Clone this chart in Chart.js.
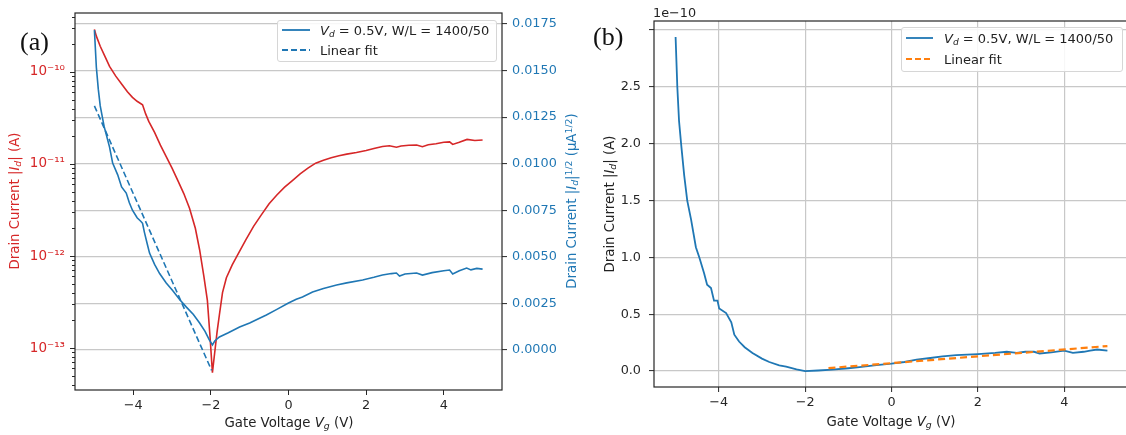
<!DOCTYPE html>
<html>
<head>
<meta charset="utf-8">
<script src="https://cdn.jsdelivr.net/npm/chart.js@4.4.1/dist/chart.umd.min.js"></script>
<style>
  html, body { margin: 0; padding: 0; background: #fff; overflow: hidden; }
  body { width: 1126px; height: 435px; position: relative; font-family: "DejaVu Sans", sans-serif; color: #222; }
  canvas { position: absolute; top: 0; }
  #chartA { left: 0; }
  #chartB { left: 580px; }
  .txt { position: absolute; white-space: nowrap; font-size: 13.3px; line-height: 16px; }
  .rot { transform: translate(-50%, -50%) rotate(-90deg); }
  .ctr { transform: translate(-50%, -50%); }
  .panel { position: absolute; font-family: "Liberation Serif", serif; font-size: 26px; line-height: 26px; color: #111; }
  sub { font-size: 0.7em; vertical-align: -0.25em; line-height: 0; }
  sup { font-size: 0.7em; vertical-align: 0.45em; line-height: 0; }
  .legend { position: absolute; background: rgba(255,255,255,0.85); border: 1px solid #d6d6d6; border-radius: 3px; box-sizing: border-box; }
  .legend .row { position: absolute; left: 0; display: flex; align-items: center; font-size: 13px; line-height: 15px; white-space: nowrap; }
  .legend svg { margin-left: 4px; margin-right: 10px; }
</style>
</head>
<body>
<canvas id="chartA" width="600" height="435"></canvas>
<canvas id="chartB" width="600" height="435"></canvas>

<div class="panel" style="left:20px;top:29px">(a)</div>
<div class="panel" style="left:593px;top:24px">(b)</div>

<div class="txt rot" style="left:15px;top:201px;color:#d62728">Drain Current |<i>I<sub>d</sub></i>| (A)</div>
<div class="txt rot" style="left:572px;top:201px;color:#1f77b4">Drain Current |<i>I<sub>d</sub></i>|<sup>1/2</sup> (μA<sup>1/2</sup>)</div>
<div class="txt ctr" style="left:289px;top:423px">Gate Voltage <i>V<sub>g</sub></i> (V)</div>

<div class="txt rot" style="left:610px;top:204px">Drain Current |<i>I<sub>d</sub></i>| (A)</div>
<div class="txt ctr" style="left:891px;top:422px">Gate Voltage <i>V<sub>g</sub></i> (V)</div>
<div class="txt" style="left:653px;top:5px;font-size:12.8px;line-height:15px">1e−10</div>

<div class="legend" style="left:277px;top:20px;width:220px;height:42px">
  <div class="row" style="top:1.5px"><svg width="28" height="10"><line x1="0" y1="5" x2="28" y2="5" stroke="#1f77b4" stroke-width="1.8"/></svg><span><i>V<sub>d</sub></i> = 0.5V, W/L = 1400/50</span></div>
  <div class="row" style="top:21.5px"><svg width="28" height="10"><line x1="0" y1="5" x2="28" y2="5" stroke="#1f77b4" stroke-width="1.8" stroke-dasharray="6 3"/></svg><span>Linear fit</span></div>
</div>
<div class="legend" style="left:901px;top:27px;width:222px;height:45px">
  <div class="row" style="top:2.5px"><svg width="27" height="10"><line x1="0" y1="5" x2="27" y2="5" stroke="#1f77b4" stroke-width="1.8"/></svg><span style="margin-left:1px"><i>V<sub>d</sub></i> = 0.5V, W/L = 1400/50</span></div>
  <div class="row" style="top:23.5px"><svg width="27" height="10"><line x1="0" y1="5" x2="27" y2="5" stroke="#ff7f0e" stroke-width="2" stroke-dasharray="6 3"/></svg><span style="margin-left:1px">Linear fit</span></div>
</div>

<script>
// (a) |Id| on log axis
const redVg = [-5.00, -4.95, -4.85, -4.72, -4.61, -4.45, -4.28, -4.15, -4.02, -3.90, -3.76, -3.68, -3.60, -3.45, -3.30, -3.15, -3.00, -2.85, -2.70, -2.55, -2.40, -2.29, -2.18, -2.09, -2.02, -1.96, -1.90, -1.84, -1.78, -1.70, -1.60, -1.45, -1.30, -1.10, -0.90, -0.70, -0.50, -0.30, -0.10, 0.10, 0.30, 0.50, 0.70, 0.90, 1.10, 1.30, 1.50, 1.75, 2.00, 2.20, 2.42, 2.60, 2.78, 2.90, 3.10, 3.30, 3.45, 3.60, 3.80, 4.00, 4.15, 4.23, 4.40, 4.60, 4.80, 5.00];
const redId = [2.9e-10, 2.45e-10, 1.9e-10, 1.45e-10, 1.15e-10, 9.0e-11, 7.2e-11, 6.1e-11, 5.3e-11, 4.8e-11, 4.4e-11, 3.5e-11, 2.9e-11, 2.2e-11, 1.6e-11, 1.2e-11, 9.0e-12, 6.6e-12, 4.8e-12, 3.3e-12, 2.0e-12, 1.17e-12, 6.0e-13, 3.3e-13, 1.3e-13, 5.4e-14, 9.0e-14, 1.5e-13, 2.3e-13, 4.0e-13, 5.8e-13, 8.0e-13, 1.05e-12, 1.5e-12, 2.1e-12, 2.8e-12, 3.7e-12, 4.6e-12, 5.6e-12, 6.6e-12, 7.8e-12, 9.0e-12, 1.02e-11, 1.10e-11, 1.17e-11, 1.23e-11, 1.28e-11, 1.33e-11, 1.40e-11, 1.47e-11, 1.55e-11, 1.58e-11, 1.52e-11, 1.57e-11, 1.60e-11, 1.61e-11, 1.54e-11, 1.62e-11, 1.66e-11, 1.72e-11, 1.74e-11, 1.63e-11, 1.72e-11, 1.85e-11, 1.80e-11, 1.82e-11];

// (a) |Id|^1/2 in uA^1/2 on right axis
const sqrtVg = [-5.00, -4.95, -4.90, -4.85, -4.75, -4.61, -4.53, -4.40, -4.30, -4.18, -4.10, -4.02, -3.90, -3.80, -3.76, -3.71, -3.64, -3.58, -3.45, -3.32, -3.15, -2.99, -2.80, -2.63, -2.45, -2.29, -2.15, -2.04, -1.96, -1.90, -1.78, -1.55, -1.26, -1.00, -0.80, -0.57, -0.30, 0.00, 0.20, 0.36, 0.62, 0.90, 1.24, 1.50, 1.91, 2.20, 2.42, 2.65, 2.78, 2.86, 3.00, 3.30, 3.45, 3.70, 4.00, 4.15, 4.23, 4.40, 4.59, 4.70, 4.85, 5.00];
const sqrtId = [0.01717, 0.01518, 0.0140, 0.0131, 0.0120, 0.01089, 0.01003, 0.0094, 0.00875, 0.00842, 0.0079, 0.0075, 0.0071, 0.0069, 0.0068, 0.0063, 0.0057, 0.0052, 0.0046, 0.0041, 0.0036, 0.0032, 0.0027, 0.0023, 0.0019, 0.00145, 0.0010, 0.00054, 0.00027, 0.00048, 0.00070, 0.00092, 0.00123, 0.00145, 0.00165, 0.00188, 0.00218, 0.00252, 0.00272, 0.00284, 0.00311, 0.00330, 0.00349, 0.00360, 0.00376, 0.00390, 0.00402, 0.00410, 0.00413, 0.00397, 0.00408, 0.00413, 0.00402, 0.00415, 0.00425, 0.00429, 0.00408, 0.00425, 0.00440, 0.00430, 0.00438, 0.00434];
const fitAVg = [-5.0, -1.98];
const fitASqrt = [0.0131, -0.0011];

// (b) |Id| in units of 1e-10 A
const linVg = [-5.00, -4.96, -4.92, -4.87, -4.80, -4.73, -4.64, -4.53, -4.45, -4.34, -4.27, -4.18, -4.11, -4.03, -3.99, -3.83, -3.71, -3.64, -3.53, -3.40, -3.22, -3.00, -2.83, -2.60, -2.44, -2.20, -2.00, -1.70, -1.37, -1.00, -0.74, -0.40, 0.00, 0.30, 0.58, 0.90, 1.18, 1.50, 2.00, 2.40, 2.67, 2.80, 2.90, 3.10, 3.30, 3.43, 3.70, 4.00, 4.20, 4.45, 4.60, 4.76, 5.00];
const linId = [2.94, 2.50, 2.20, 1.99, 1.72, 1.50, 1.33, 1.09, 1.00, 0.86, 0.76, 0.73, 0.62, 0.62, 0.55, 0.51, 0.43, 0.32, 0.26, 0.21, 0.16, 0.11, 0.08, 0.05, 0.04, 0.015, 0.0, 0.005, 0.012, 0.025, 0.035, 0.05, 0.065, 0.08, 0.10, 0.115, 0.13, 0.14, 0.15, 0.16, 0.17, 0.165, 0.16, 0.17, 0.17, 0.155, 0.165, 0.18, 0.16, 0.17, 0.18, 0.19, 0.18];
const fitBVg = [-1.46, 5.0];
const fitBId = [0.026, 0.22];

const xTicks = [-4, -2, 0, 2, 4];
const logDecades = [-14, -13, -12, -11, -10];
const sqrtTicks = [0, 0.0025, 0.005, 0.0075, 0.01, 0.0125, 0.015, 0.0175];
const linTicks = [0, 0.5, 1, 1.5, 2, 2.5, 3];

const RED = "#d62728";
const BLUE = "#1f77b4";
const ORANGE = "#ff7f0e";
const GRID = "#c8c8c8";
const INK = "#262626";
const FONT = { family: "DejaVu Sans", size: 12.8 };
const SUP = { "-": "\u207b", 0: "\u2070", 1: "\u00b9", 2: "\u00b2", 3: "\u00b3", 4: "\u2074", 5: "\u2075", 6: "\u2076", 7: "\u2077", 8: "\u2078", 9: "\u2079" };

const pts = (xs, ys) => xs.map((x, i) => ({ x, y: ys[i] }));
const minus = (v) => String(v).replace("-", "\u2212");
const isDecade = (v) => Math.abs(Math.log10(v) - Math.round(Math.log10(v))) < 1e-6;
const decadeLabel = (v) => (isDecade(v) ? "10" + String(Math.round(Math.log10(v))).split("").map((c) => SUP[c]).join("") : "");

const fixSize = (size) => (scale) => {
  if (scale.isHorizontal()) scale.height = size;
  else scale.width = size;
  scale.paddingTop = scale.paddingBottom = scale.paddingLeft = scale.paddingRight = 0;
};
const useTicks = (values) => (scale) => {
  scale.ticks = values.map((value) => ({ value }));
};
const logTicks = (scale) => {
  const ticks = [];
  logDecades.forEach((e) => {
    for (let m = 1; m <= 9; m++) {
      const v = m * Math.pow(10, e);
      if (v >= scale.min && v <= scale.max) ticks.push({ value: v });
    }
  });
  scale.ticks = ticks;
};

const frame = {
  id: "frame",
  afterDatasetsDraw(chart) {
    const { ctx, chartArea: a } = chart;
    ctx.save();
    ctx.strokeStyle = INK;
    ctx.lineWidth = 1.2;
    ctx.strokeRect(a.left, a.top, a.right - a.left, a.bottom - a.top);
    ctx.restore();
  },
};

const logTickMarks = {
  id: "logTickMarks",
  afterDraw(chart) {
    const scale = chart.scales.yLog;
    const { ctx } = chart;
    ctx.save();
    ctx.strokeStyle = INK;
    ctx.lineWidth = 1;
    scale.ticks.forEach((t) => {
      const y = Math.round(scale.getPixelForValue(t.value)) + 0.5;
      const len = isDecade(t.value) ? 5 : 3;
      ctx.beginPath();
      ctx.moveTo(scale.right - len, y);
      ctx.lineTo(scale.right, y);
      ctx.stroke();
    });
    ctx.restore();
  },
};

const line = (data, color, width, axis, dash) => ({
  data,
  yAxisID: axis,
  borderColor: color,
  borderWidth: width,
  borderDash: dash || [],
  pointRadius: 0,
  tension: 0,
  fill: false,
});

new Chart(document.getElementById("chartA"), {
  type: "line",
  data: {
    datasets: [
      line(pts(sqrtVg, sqrtId), BLUE, 1.6, "yR"),
      line(pts(fitAVg, fitASqrt), BLUE, 1.6, "yR", [6, 3]),
      line(pts(redVg, redId), RED, 1.6, "yLog"),
    ],
  },
  options: {
    responsive: false,
    animation: false,
    events: [],
    layout: { padding: { top: 13, left: 0, right: 0, bottom: 0 } },
    plugins: { legend: { display: false }, tooltip: { enabled: false } },
    scales: {
      x: {
        type: "linear",
        min: -5.5,
        max: 5.5,
        afterFit: fixSize(45),
        afterBuildTicks: useTicks(xTicks),
        grid: { drawOnChartArea: false, tickLength: 5, tickColor: INK, tickWidth: 1 },
        border: { display: false },
        ticks: { font: FONT, color: INK, padding: 3, autoSkip: false, maxRotation: 0, callback: (v) => minus(v) },
      },
      yLog: {
        type: "logarithmic",
        position: "left",
        min: 3.5e-14,
        max: 4.37e-10,
        afterFit: fixSize(75),
        afterBuildTicks: logTicks,
        grid: { display: false, drawTicks: false },
        border: { display: false },
        ticks: { font: { family: "DejaVu Sans", size: 13.5 }, color: RED, padding: 10, autoSkip: false, callback: decadeLabel },
      },
      yR: {
        type: "linear",
        position: "right",
        min: -0.00215,
        max: 0.01809,
        afterFit: fixSize(98),
        afterBuildTicks: useTicks(sqrtTicks),
        grid: { color: GRID, lineWidth: 1.2, tickLength: 5, tickColor: INK, tickWidth: 1 },
        border: { display: false },
        ticks: { font: FONT, color: BLUE, padding: 5, autoSkip: false, callback: (v) => v.toFixed(4) },
      },
    },
  },
  plugins: [frame, logTickMarks],
});

new Chart(document.getElementById("chartB"), {
  type: "line",
  data: {
    datasets: [
      line(pts(fitBVg, fitBId), ORANGE, 2.2, "y", [7, 4]),
      line(pts(linVg, linId), BLUE, 1.8, "y"),
    ],
  },
  options: {
    responsive: false,
    animation: false,
    events: [],
    layout: { padding: { top: 21, left: 0, right: 51, bottom: 0 } },
    plugins: { legend: { display: false }, tooltip: { enabled: false } },
    scales: {
      x: {
        type: "linear",
        min: -5.5,
        max: 5.5,
        afterFit: fixSize(48),
        afterBuildTicks: useTicks(xTicks),
        grid: { color: GRID, lineWidth: 1.2, tickLength: 5, tickColor: INK, tickWidth: 1 },
        border: { display: false },
        ticks: { font: FONT, color: INK, padding: 3, autoSkip: false, maxRotation: 0, callback: (v) => minus(v) },
      },
      y: {
        type: "linear",
        position: "left",
        min: -0.14,
        max: 3.08,
        afterFit: fixSize(74),
        afterBuildTicks: useTicks(linTicks),
        grid: { color: GRID, lineWidth: 1.2, tickLength: 5, tickColor: INK, tickWidth: 1 },
        border: { display: false },
        ticks: { font: FONT, color: INK, padding: 8, autoSkip: false, callback: (v) => (v === 3 ? "" : v.toFixed(1)) },
      },
    },
  },
  plugins: [frame],
});
</script>
</body>
</html>
